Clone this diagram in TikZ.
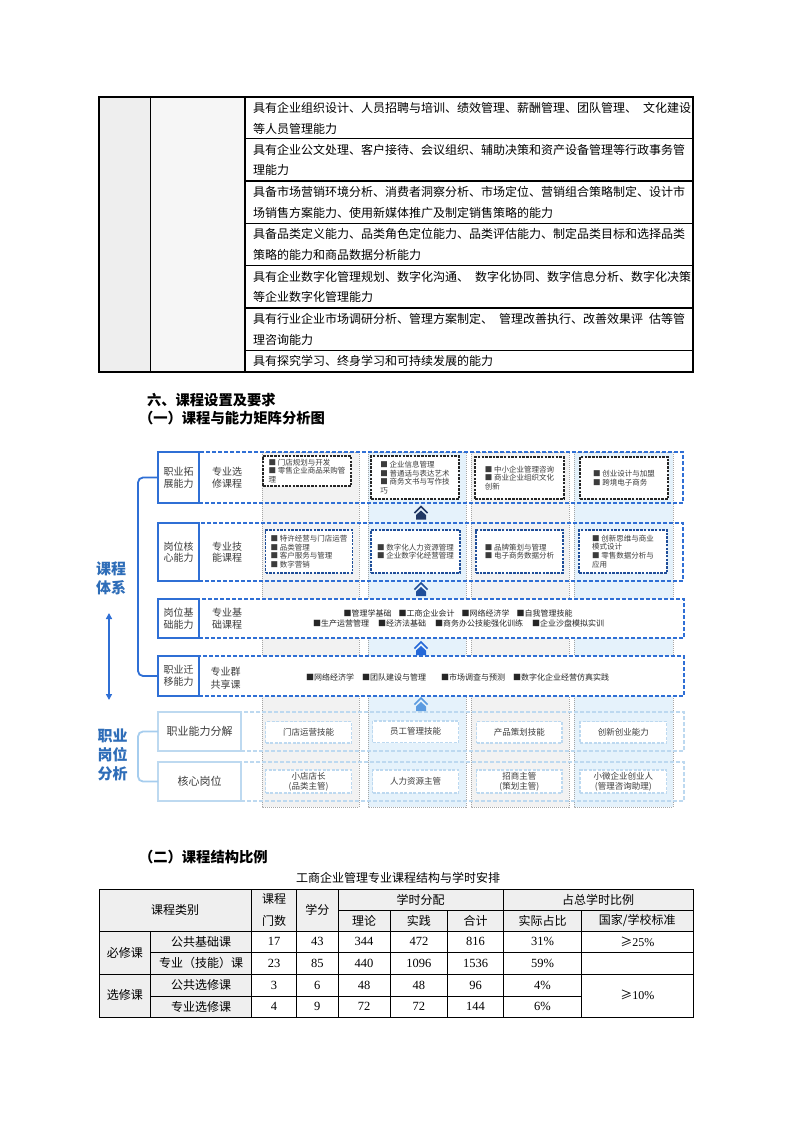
\documentclass[tikz,border=0pt]{standalone}
\usepackage{fontspec}
\setmainfont{Noto Sans CJK SC}
\newfontfamily\tnr{Liberation Serif}
\usetikzlibrary{arrows.meta}
\definecolor{bandgray}{HTML}{F2F2F2}
\definecolor{bandblue}{HTML}{E5F2FB}
\definecolor{dotgray}{HTML}{A6A6A6}
\definecolor{mblue}{HTML}{2F6FD5}
\definecolor{dblue}{HTML}{1F4E99}
\definecolor{navy}{HTML}{203864}
\definecolor{ablue}{HTML}{2468D8}
\definecolor{alight}{HTML}{5B9BE0}
\definecolor{lblue}{HTML}{BDD9F0}
\definecolor{lblue2}{HTML}{A6CDEE}
\definecolor{txtgray}{HTML}{3C3C3C}
\definecolor{cellgray}{HTML}{EFEFEF}
\definecolor{colA}{HTML}{EEEEEE}
\definecolor{colB}{HTML}{F6F6F6}
\definecolor{headblue}{HTML}{2E6DB8}
\newcommand\houseup[3]{%
  \draw[#3, line width=1.7pt, line join=miter] ({#1-6.5},{#2+1.5}) -- ({#1},{#2-5}) -- ({#1+6.5},{#2+1.5});
  \fill[#3] ({#1-5},{#2+3.5}) -- ({#1},{#2-1}) -- ({#1+5},{#2+3.5}) -- ({#1+5},{#2+8}) -- ({#1-5},{#2+8}) -- cycle;
}
\tikzset{
  every node/.style={inner sep=0pt, outer sep=0pt},
  tt/.style={anchor=west, font=\fontsize{12}{14}\selectfont},
  tbl/.style={line width=1.3pt},
  tb/.style={line width=0.9pt},
  band/.style={draw=dotgray, line width=0.8pt, dash pattern=on 1pt off 1pt},
  labbox/.style={draw=mblue, line width=1.6pt, fill=white, anchor=north west, align=center, text=txtgray, font=\fontsize{10}{11.5}\selectfont, minimum width=41pt},
  rowbox/.style={draw=mblue, line width=1.4pt, dash pattern=on 4pt off 2pt, anchor=north west},
  sub/.style={align=center, text=txtgray, font=\fontsize{10}{11.5}\selectfont},
  ibk/.style={draw=black!85, fill=white, line width=1.1pt, dash pattern=on 2.5pt off 1.2pt, anchor=north west, align=left, font=\fontsize{7.5}{8.7}\selectfont, text=txtgray},
  ibb/.style={ibk, draw=dblue},
  ibl/.style={draw=lblue, fill=white, line width=1.1pt, dash pattern=on 3pt off 1.5pt, anchor=north west, align=center, font=\fontsize{8.5}{10}\selectfont, text=txtgray},
  lab2/.style={draw=lblue, line width=1.4pt, fill=white, anchor=north west, align=center, text=txtgray, font=\fontsize{11}{13}\selectfont, minimum width=83pt},
  rowl/.style={draw=lblue, line width=1.2pt, dash pattern=on 4pt off 2pt, anchor=north west},
  course/.style={font=\fontsize{8}{10}\selectfont, text=black!85},
  bigl/.style={text=headblue, font=\bfseries\fontsize{15}{19}\selectfont, align=center},
  hd/.style={anchor=west, font=\bfseries\fontsize{14.3}{16}\selectfont},
  tc/.style={font=\fontsize{12}{14}\selectfont},
  tn/.style={font=\tnr\fontsize{12.5}{14}\selectfont},
}
\XeTeXlinebreaklocale "zh"
\XeTeXlinebreakskip=0pt plus 1pt
\begin{document}
\begin{tikzpicture}[x=1pt,y=-1pt]
\useasboundingbox (0,0) rectangle (793,1122);
\fill[white] (0,0) rectangle (793,1122);

% ---------- top table ----------
\fill[colA] (99,97) rectangle (150.8,372);
\fill[colB] (150.8,97) rectangle (245,372);
\draw[tbl] (99,97) rectangle (693,372);
\draw[tbl] (150.8,97) -- (150.8,372);
\draw[tbl] (245,97) -- (245,372);
\foreach \yy in {138.7,181,223.3,265.7,308,350.3} \draw[tbl] (245,\yy) -- (693,\yy);

\node[tt] (t1a) at (253,107.8) {\makebox[433pt][s]{具有企业组织设计、人员招聘与培训、绩效管理、薪酬管理、团队管理、\hspace{6pt}文化建设}};
\node[tt] (t1b) at (253,128.5) {等人员管理能力};
\node[tt] (t2a) at (253,149.5) {\makebox[433pt][s]{具有企业公文处理、客户接待、会议组织、辅助决策和资产设备管理等行政事务管}};
\node[tt] (t2b) at (253,170.2) {理能力};
\node[tt] (t3a) at (253,191.8) {\makebox[433pt][s]{具备市场营销环境分析、消费者洞察分析、市场定位、营销组合策略制定、设计市}};
\node[tt] (t3b) at (253,212.5) {场销售方案能力、使用新媒体推广及制定销售策略的能力};
\node[tt] (t4a) at (253,234.1) {\makebox[433pt][s]{具备品类定义能力、品类角色定位能力、品类评估能力、制定品类目标和选择品类}};
\node[tt] (t4b) at (253,254.8) {策略的能力和商品数据分析能力};
\node[tt] (t5a) at (253,276.5) {\makebox[433pt][s]{具有企业数字化管理规划、数字化沟通、\hspace{6pt}数字化协同、数字信息分析、数字化决策}};
\node[tt] (t5b) at (253,297.2) {等企业数字化管理能力};
\node[tt] (t6a) at (253,318.8) {\makebox[433pt][s]{具有行业企业市场调研分析、管理方案制定、\hspace{6pt}管理改善执行、改善效果评\hspace{6pt}估等管}};
\node[tt] (t6b) at (253,339.5) {理咨询能力};
\node[tt] (t7a) at (253,361) {具有探究学习、终身学习和可持续发展的能力};

% ---------- headings ----------
\node[hd] (h1) at (147,400) {六、课程设置及要求};
\node[hd] (h2) at (139,418) {（一）课程与能力矩阵分析图};

% ---------- bands ----------
\filldraw[band, fill=bandgray] (262,452) rectangle (359,807);
\filldraw[band, fill=bandblue] (368,452) rectangle (466,807);
\filldraw[band, fill=bandgray] (471,452) rectangle (569,807);
\filldraw[band, fill=bandblue] (574,452) rectangle (673,807);

% ---------- rows ----------
\node[rowbox, minimum width=484pt, minimum height=51pt] (r1) at (199,452) {};
\node[labbox, minimum height=51pt] (r1a) at (158,452) {职业拓\\展能力};
\node[sub] (r1b) at (227,477.5) {专业选\\修课程};

\node[rowbox, minimum width=484pt, minimum height=58pt] (r2) at (199,523) {};
\node[labbox, minimum height=58pt] (r2a) at (158,523) {岗位核\\心能力};
\node[sub] (r2b) at (227,552) {专业技\\能课程};

\node[rowbox, fill=white, minimum width=485pt, minimum height=39pt] (r3) at (199,599) {};
\node[labbox, minimum height=39pt] (r3a) at (158,599) {岗位基\\础能力};
\node[sub] (r3b) at (227,618.5) {专业基\\础课程};

\node[rowbox, fill=white, minimum width=485pt, minimum height=40pt] (r4) at (199,656) {};
\node[labbox, minimum height=40pt] (r4a) at (158,656) {职业迁\\移能力};
\node[sub, font=\fontsize{10}{13}\selectfont] (r4b) at (225.5,678) {专业群\\共享课};

\node[rowl, minimum width=443pt, minimum height=39pt] (r5) at (241,712) {};
\node[lab2, minimum height=39pt] (r5a) at (158,712) {职业能力分解};
\node[rowl, minimum width=443pt, minimum height=39pt] (r6) at (241,762) {};
\node[lab2, minimum height=39pt] (r6a) at (158,762) {核心岗位};

% ---------- inner boxes row 1 ----------
\node[ibk, minimum width=88pt, minimum height=30pt] (c11) at (263,456) {■ 门店规划与开发\\■ 零售企业商品采购管\\理};
\node[ibk, minimum width=88pt, minimum height=43pt] (c12) at (371,456) {■ 企业信息管理\\■ 普通话与表达艺术\\■ 商务文书与写作技\\巧};
\node[ibk, minimum width=89pt, minimum height=42pt] (c13) at (475,457) {■ 中小企业管理咨询\\■ 商业企业组织文化\\创新};
\node[ibk, minimum width=88pt, minimum height=42pt] (c14) at (580,457) {■ 创业设计与加盟\\■ 跨境电子商务};

% ---------- inner boxes row 2 ----------
\node[ibb, minimum width=87pt, minimum height=43pt] (c21) at (265.5,530) {■ 特许经营与门店运营\\■ 品类管理\\■ 客户服务与管理\\■ 数字营销};
\node[ibb, minimum width=89pt, minimum height=43pt] (c22) at (371,530) {■ 数字化人力资源管理\\■ 企业数字化经营管理};
\node[ibb, minimum width=87pt, minimum height=43pt] (c23) at (476,530) {■ 品牌策划与管理\\■ 电子商务数据分析};
\node[ibb, minimum width=88pt, minimum height=43pt] (c24) at (579,530) {■ 创新思维与商业\\模式设计\\■ 零售数据分析与\\应用};

% ---------- courses rows 3, 4 ----------
\node[course] (k31) at (458,613) {■管理学基础\hspace{7pt}■工商企业会计\hspace{7pt}■网络经济学\hspace{7pt}■自我管理技能};
\node[course] (k32) at (458.5,623.5) {■生产运营管理\hspace{9pt}■经济法基础\hspace{9pt}■商务办公技能强化训练\hspace{9pt}■企业沙盘模拟实训};
\node[course] (k41) at (457.5,677) {■网络经济学\hspace{8pt}■团队建设与管理\hspace{15pt}■市场调查与预测\hspace{8pt}■数字化企业经营仿真实践};

% ---------- inner boxes rows 5, 6 ----------
\node[ibl, minimum width=86pt, minimum height=21.5pt] (c51) at (265.5,721.5) {门店运营技能};
\node[ibl, minimum width=86pt, minimum height=21.5pt] (c52) at (372.5,721) {员工管理技能};
\node[ibl, minimum width=85.5pt, minimum height=21.5pt] (c53) at (476.5,721.5) {产品策划技能};
\node[ibl, minimum width=86.5pt, minimum height=21.5pt] (c54) at (580,721.5) {创新创业能力};
\node[ibl, minimum width=86pt, minimum height=23pt] (c61) at (265.5,770) {小店店长\\(品类主管)};
\node[ibl, minimum width=86pt, minimum height=23pt] (c62) at (372.5,770) {人力资源主管};
\node[ibl, minimum width=85.5pt, minimum height=23pt] (c63) at (476.5,770) {招商主管\\(策划主管)};
\node[ibl, minimum width=86.5pt, minimum height=23pt] (c64) at (580,770) {小微企业创业人\\(管理咨询助理)};

% ---------- up arrows ----------
\houseup{421}{511.5}{navy}
\houseup{421}{588}{dblue}
\houseup{421}{647}{ablue}
\houseup{421}{703}{alight}

% ---------- left side ----------
\draw[mblue, line width=1.8pt, rounded corners=5pt] (r1a.west) -- ++(-20,0) |- (r4a.west);
\draw[lblue2, line width=1.8pt, rounded corners=5pt] (r5a.west) -- ++(-20,0) |- (r6a.west);
\node[bigl] (kc) at (111,578.5) {课程\\体系};
\node[bigl] (zy) at (112.5,755) {职业\\岗位\\分析};
\coordinate (d1) at (109,613);
\coordinate (d2) at (109,700);
\draw[mblue, line width=1.8pt, {Triangle[length=6pt,width=6pt]}-{Triangle[length=6pt,width=6pt]}] (d1) -- (d2);

% ---------- section 2 ----------
\node[hd] (h3) at (139,857) {（二）课程结构比例};
\node[tc] (cap) at (398,877.5) {工商企业管理专业课程结构与学时安排};

\fill[cellgray] (99,889) rectangle (693,931);
\fill[cellgray] (99,931) rectangle (251.4,1017);
\draw[tb] (99,889) rectangle (693,1017);
\draw[tb] (338,910) -- (693,910);
\draw[tb] (99,931) -- (693,931);
\draw[tb] (150.6,952.5) -- (693,952.5);
\draw[tb] (99,974) -- (693,974);
\draw[tb] (150.6,996) -- (581.6,996);
\draw[tb] (150.6,931) -- (150.6,1017);
\draw[tb] (251.4,889) -- (251.4,1017);
\draw[tb] (296.6,889) -- (296.6,1017);
\draw[tb] (338,889) -- (338,1017);
\draw[tb] (390,910) -- (390,1017);
\draw[tb] (447.7,910) -- (447.7,1017);
\draw[tb] (503.4,889) -- (503.4,1017);
\draw[tb] (581.6,910) -- (581.6,1017);

\node[tc] (hA) at (175,910) {课程类别};
\node[tc] (hB1) at (274,899.5) {课程};
\node[tc] (hB2) at (274,920.5) {门数};
\node[tc] (hC) at (317.3,910) {学分};
\node[tc] (hD) at (420.7,899.5) {学时分配};
\node[tc] (hD1) at (364,920.5) {理论};
\node[tc] (hD2) at (418.9,920.5) {实践};
\node[tc] (hD3) at (475.5,920.5) {合计};
\node[tc] (hE) at (598.2,899.5) {占总学时比例};
\node[tc] (hE1) at (542.5,920.5) {实际占比};
\node[tc] (hE2) at (637.3,920.5) {国家/学校标准};

\node[tc] (g1) at (124.8,952.5) {必修课};
\node[tc] (g2) at (124.8,995.3) {选修课};
\node[tc] (l1) at (201,941.8) {公共基础课};
\node[tc] (l2) at (201,963.3) {专业（技能）课};
\node[tc] (l3) at (201,985) {公共选修课};
\node[tc] (l4) at (201,1006.5) {专业选修课};

\node[tn] (n11) at (274,941.8) {17};
\node[tn] (n12) at (317.3,941.8) {43};
\node[tn] (n13) at (364,941.8) {344};
\node[tn] (n14) at (418.9,941.8) {472};
\node[tn] (n15) at (475.5,941.8) {816};
\node[tn] (n16) at (542.5,941.8) {31\%};
\node[tc] (n17) at (637.3,941.8) {≥{\tnr 25\%}};

\node[tn] (n21) at (274,963.3) {23};
\node[tn] (n22) at (317.3,963.3) {85};
\node[tn] (n23) at (364,963.3) {440};
\node[tn] (n24) at (418.9,963.3) {1096};
\node[tn] (n25) at (475.5,963.3) {1536};
\node[tn] (n26) at (542.5,963.3) {59\%};

\node[tn] (n31) at (274,985) {3};
\node[tn] (n32) at (317.3,985) {6};
\node[tn] (n33) at (364,985) {48};
\node[tn] (n34) at (418.9,985) {48};
\node[tn] (n35) at (475.5,985) {96};
\node[tn] (n36) at (542.5,985) {4\%};
\node[tc] (n37) at (637.3,995.3) {≥{\tnr 10\%}};

\node[tn] (n41) at (274,1006.5) {4};
\node[tn] (n42) at (317.3,1006.5) {9};
\node[tn] (n43) at (364,1006.5) {72};
\node[tn] (n44) at (418.9,1006.5) {72};
\node[tn] (n45) at (475.5,1006.5) {144};
\node[tn] (n46) at (542.5,1006.5) {6\%};
\end{tikzpicture}
\end{document}
